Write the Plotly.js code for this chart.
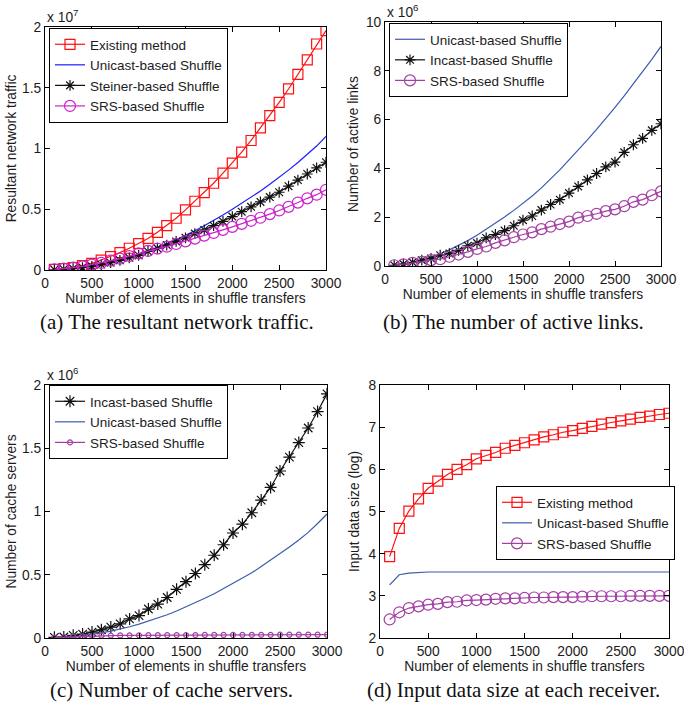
<!DOCTYPE html>
<html>
<head>
<meta charset="utf-8">
<script src="https://cdn.plot.ly/plotly-3.0.1.min.js"></script>
<style>html,body{margin:0;padding:0;background:#fff;}#chart{width:684px;height:708px;}</style>
</head>
<body>
<div id="chart"></div>
<script>
// x: number of elements in shuffle transfers
const elements = [100,200,300,400,500,600,700,800,900,1000,1100,1200,1300,1400,1500,1600,1700,1800,1900,2000,2100,2200,2300,2400,2500,2600,2700,2800,2900,3000];

// (a) resultant network traffic (x 10^7)
const a_existing = [0.005,0.011,0.019,0.036,0.055,0.082,0.11,0.143,0.179,0.217,0.26,0.31,0.365,0.426,0.495,0.566,0.637,0.714,0.797,0.88,0.97,1.066,1.17,1.27,1.38,1.49,1.61,1.73,1.86,1.97];
const a_unicast  = [0.002,0.006,0.012,0.021,0.033,0.047,0.063,0.082,0.104,0.128,0.155,0.184,0.215,0.249,0.285,0.323,0.364,0.407,0.452,0.5,0.548,0.598,0.65,0.705,0.762,0.822,0.885,0.95,1.02,1.1];
const a_steiner  = [0.002,0.006,0.012,0.02,0.03,0.045,0.06,0.08,0.1,0.12,0.153,0.178,0.205,0.235,0.265,0.3,0.33,0.365,0.4,0.44,0.48,0.52,0.56,0.6,0.64,0.69,0.74,0.79,0.84,0.887];
const a_srs      = [0.005,0.011,0.019,0.03,0.044,0.058,0.077,0.093,0.115,0.137,0.157,0.176,0.192,0.214,0.236,0.258,0.283,0.305,0.33,0.355,0.38,0.405,0.43,0.46,0.49,0.52,0.555,0.59,0.62,0.66];

// (b) number of active links (x 10^6)
const b_unicast = [0.02,0.07,0.14,0.24,0.36,0.5,0.66,0.84,1.04,1.26,1.5,1.75,2.01,2.28,2.56,2.87,3.2,3.55,3.94,4.35,4.75,5.17,5.6,6.04,6.5,6.97,7.46,7.96,8.47,9.0];
const b_incast  = [0.03,0.08,0.15,0.24,0.31,0.44,0.51,0.64,0.83,0.94,1.15,1.29,1.45,1.65,1.88,2.05,2.29,2.52,2.72,2.99,3.26,3.53,3.79,4.06,4.26,4.66,4.97,5.23,5.56,5.83];
const b_srs     = [0.03,0.07,0.13,0.17,0.24,0.28,0.38,0.47,0.58,0.7,0.8,0.95,1.05,1.18,1.29,1.38,1.51,1.61,1.72,1.82,1.98,2.05,2.14,2.25,2.32,2.45,2.63,2.72,2.9,3.06];

// (c) number of cache servers (x 10^6)
const c_incast  = [0.005,0.008,0.021,0.031,0.047,0.065,0.086,0.112,0.151,0.177,0.229,0.268,0.32,0.385,0.445,0.51,0.58,0.654,0.737,0.83,0.9,0.99,1.09,1.19,1.32,1.43,1.545,1.66,1.79,1.93];
const c_unicast = [0.001,0.004,0.009,0.017,0.027,0.04,0.054,0.07,0.089,0.11,0.133,0.158,0.184,0.213,0.245,0.278,0.314,0.35,0.39,0.43,0.472,0.515,0.565,0.615,0.67,0.72,0.775,0.835,0.905,0.98];
const c_srs     = [0.003,0.006,0.01,0.013,0.016,0.018,0.019,0.02,0.021,0.021,0.022,0.022,0.022,0.023,0.023,0.023,0.024,0.024,0.024,0.024,0.025,0.025,0.025,0.025,0.026,0.026,0.026,0.026,0.026,0.026];

// (d) input data size at each receiver (log)
const d_existing = [3.93,4.6,5.01,5.3,5.55,5.72,5.88,6.0,6.11,6.25,6.33,6.4,6.5,6.57,6.63,6.7,6.77,6.82,6.88,6.92,6.97,7.02,7.07,7.11,7.15,7.19,7.23,7.26,7.3,7.33];
const d_unicast  = [3.26,3.5,3.54,3.556,3.565,3.565,3.565,3.565,3.565,3.565,3.565,3.565,3.565,3.565,3.565,3.565,3.565,3.565,3.565,3.565,3.565,3.565,3.565,3.565,3.565,3.565,3.565,3.565,3.565,3.565];
const d_srs      = [2.44,2.61,2.71,2.75,2.79,2.81,2.85,2.86,2.89,2.9,2.91,2.93,2.94,2.94,2.95,2.96,2.96,2.97,2.97,2.97,2.98,2.99,2.99,2.99,2.99,3.0,3.0,3.0,3.0,3.0];

const captions = ["(a) The resultant network traffic.", "(b) The number of active links.", "(c) Number of cache servers.", "(d) Input data size at each receiver."];
const xTitle = "Number of elements in shuffle transfers";
const yTitles = ["Resultant network traffic", "Number of active links", "Number of cache servers", "Input data size (log)"];

const RED = '#ff1010', BLUE_A = '#1a1aff', MAG_A = '#cc22cc', BLUE = '#3c5aae', PURP = '#a33fa3', BLK = '#111111';

function tr(x, y, name, color, symbol, size, xa, ya, leg) {
  const t = {x: x, y: y, name: name, xaxis: xa, yaxis: ya, legend: leg,
    line: {color: color, width: 1.2}, type: 'scatter'};
  if (symbol) { t.mode = 'lines+markers'; t.marker = {symbol: symbol, size: size, color: color, line: {color: color, width: 1.2}}; }
  else { t.mode = 'lines'; }
  return t;
}

const data = [
  tr(elements, a_existing, 'Existing method', RED, 'square-open', 10, 'x', 'y', 'legend'),
  tr(elements, a_unicast, 'Unicast-based Shuffle', BLUE_A, null, 0, 'x', 'y', 'legend'),
  tr(elements, a_steiner, 'Steiner-based Shuffle', BLK, 'asterisk-open', 9, 'x', 'y', 'legend'),
  tr(elements, a_srs, 'SRS-based Shuffle', MAG_A, 'circle-open', 11, 'x', 'y', 'legend'),

  tr(elements, b_unicast, 'Unicast-based Shuffle', BLUE, null, 0, 'x2', 'y2', 'legend2'),
  tr(elements, b_incast, 'Incast-based Shuffle', BLK, 'asterisk-open', 9, 'x2', 'y2', 'legend2'),
  tr(elements, b_srs, 'SRS-based Shuffle', PURP, 'circle-open', 11, 'x2', 'y2', 'legend2'),

  tr(elements, c_incast, 'Incast-based Shuffle', BLK, 'asterisk-open', 10, 'x3', 'y3', 'legend3'),
  tr(elements, c_unicast, 'Unicast-based Shuffle', BLUE, null, 0, 'x3', 'y3', 'legend3'),
  tr(elements, c_srs, 'SRS-based Shuffle', PURP, 'circle-open', 5, 'x3', 'y3', 'legend3'),

  tr(elements, d_existing, 'Existing method', RED, 'square-open', 10, 'x4', 'y4', 'legend4'),
  tr(elements, d_unicast, 'Unicast-based Shuffle', BLUE, null, 0, 'x4', 'y4', 'legend4'),
  tr(elements, d_srs, 'SRS-based Shuffle', PURP, 'circle-open', 11, 'x4', 'y4', 'legend4')
];

const W = 684, H = 708;
const FONT = 'Liberation Sans, Arial, Helvetica, sans-serif';
const TXT = '#1c1c1c';
const FS = 13.8;

function xax(l, r, anchor) {
  return {domain: [l / W, r / W], anchor: anchor, range: [0, 3000], dtick: 500, tick0: 0,
    showgrid: false, zeroline: false, showline: true, linecolor: '#000', linewidth: 1, mirror: 'ticks',
    ticks: 'inside', ticklen: 5, tickcolor: '#000', tickfont: {size: FS, color: TXT},
    ticklabeloverflow: 'allow',
    title: {text: xTitle, font: {size: FS, color: TXT}, standoff: 1}};
}
function yax(t, b, anchor, range, dtick, title, standoff) {
  return {domain: [1 - b / H, 1 - t / H], anchor: anchor, range: range, dtick: dtick,
    showgrid: false, zeroline: false, showline: true, linecolor: '#000', linewidth: 1, mirror: 'ticks',
    ticks: 'inside', ticklen: 5, tickcolor: '#000', tickfont: {size: FS, color: TXT},
    ticklabeloverflow: 'allow',
    title: {text: title, font: {size: FS, color: TXT}, standoff: standoff}};
}
function leg(x, y) {
  return {x: x / W, y: 1 - y / H, xanchor: 'left', yanchor: 'top', bgcolor: '#fff',
    bordercolor: '#000', borderwidth: 1, font: {size: 13.5, color: TXT}, itemwidth: 30, tracegroupgap: 0};
}
const capFont = {family: 'Liberation Serif, Times New Roman, serif', size: 21, color: '#111'};

const layout = {
  width: W, height: H, margin: {l: 0, r: 0, t: 0, b: 0},
  paper_bgcolor: '#fff', plot_bgcolor: '#fff',
  font: {family: FONT, size: FS, color: TXT},
  showlegend: true,
  xaxis: xax(45, 326, 'y'),
  yaxis: yax(27, 270, 'x', [0, 2], 0.5, yTitles[0], 2),
  xaxis2: xax(385, 661, 'y2'),
  yaxis2: yax(22, 266, 'x2', [0, 10], 2, yTitles[1], 4),
  xaxis3: xax(45, 327, 'y3'),
  yaxis3: yax(385, 638, 'x3', [0, 2], 0.5, yTitles[2], 2),
  xaxis4: xax(380, 669, 'y4'),
  yaxis4: yax(385, 638, 'x4', [2, 8], 1, yTitles[3], 5),
  legend: leg(49, 28),
  legend2: leg(389, 23),
  legend3: leg(49, 385),
  legend4: leg(496, 486),
  annotations: [
    {xref: 'x domain', yref: 'y domain', x: 0, y: 1, xanchor: 'left', yanchor: 'bottom', showarrow: false, text: 'x 10<sup>7</sup>', font: {size: FS, color: TXT}},
    {xref: 'x2 domain', yref: 'y2 domain', x: 0, y: 1, xanchor: 'left', yanchor: 'bottom', showarrow: false, text: 'x 10<sup>6</sup>', font: {size: FS, color: TXT}},
    {xref: 'x3 domain', yref: 'y3 domain', x: 0, y: 1, xanchor: 'left', yanchor: 'bottom', showarrow: false, text: 'x 10<sup>6</sup>', font: {size: FS, color: TXT}},
    {xref: 'paper', yref: 'paper', x: 177 / W, y: 1 - 322 / H, xanchor: 'center', yanchor: 'middle', showarrow: false, text: captions[0], font: capFont},
    {xref: 'paper', yref: 'paper', x: 513 / W, y: 1 - 322 / H, xanchor: 'center', yanchor: 'middle', showarrow: false, text: captions[1], font: capFont},
    {xref: 'paper', yref: 'paper', x: 171 / W, y: 1 - 690 / H, xanchor: 'center', yanchor: 'middle', showarrow: false, text: captions[2], font: capFont},
    {xref: 'paper', yref: 'paper', x: 513 / W, y: 1 - 690 / H, xanchor: 'center', yanchor: 'middle', showarrow: false, text: captions[3], font: capFont}
  ]
};

Plotly.newPlot('chart', data, layout, {staticPlot: true, displayModeBar: false});
</script>
</body>
</html>
